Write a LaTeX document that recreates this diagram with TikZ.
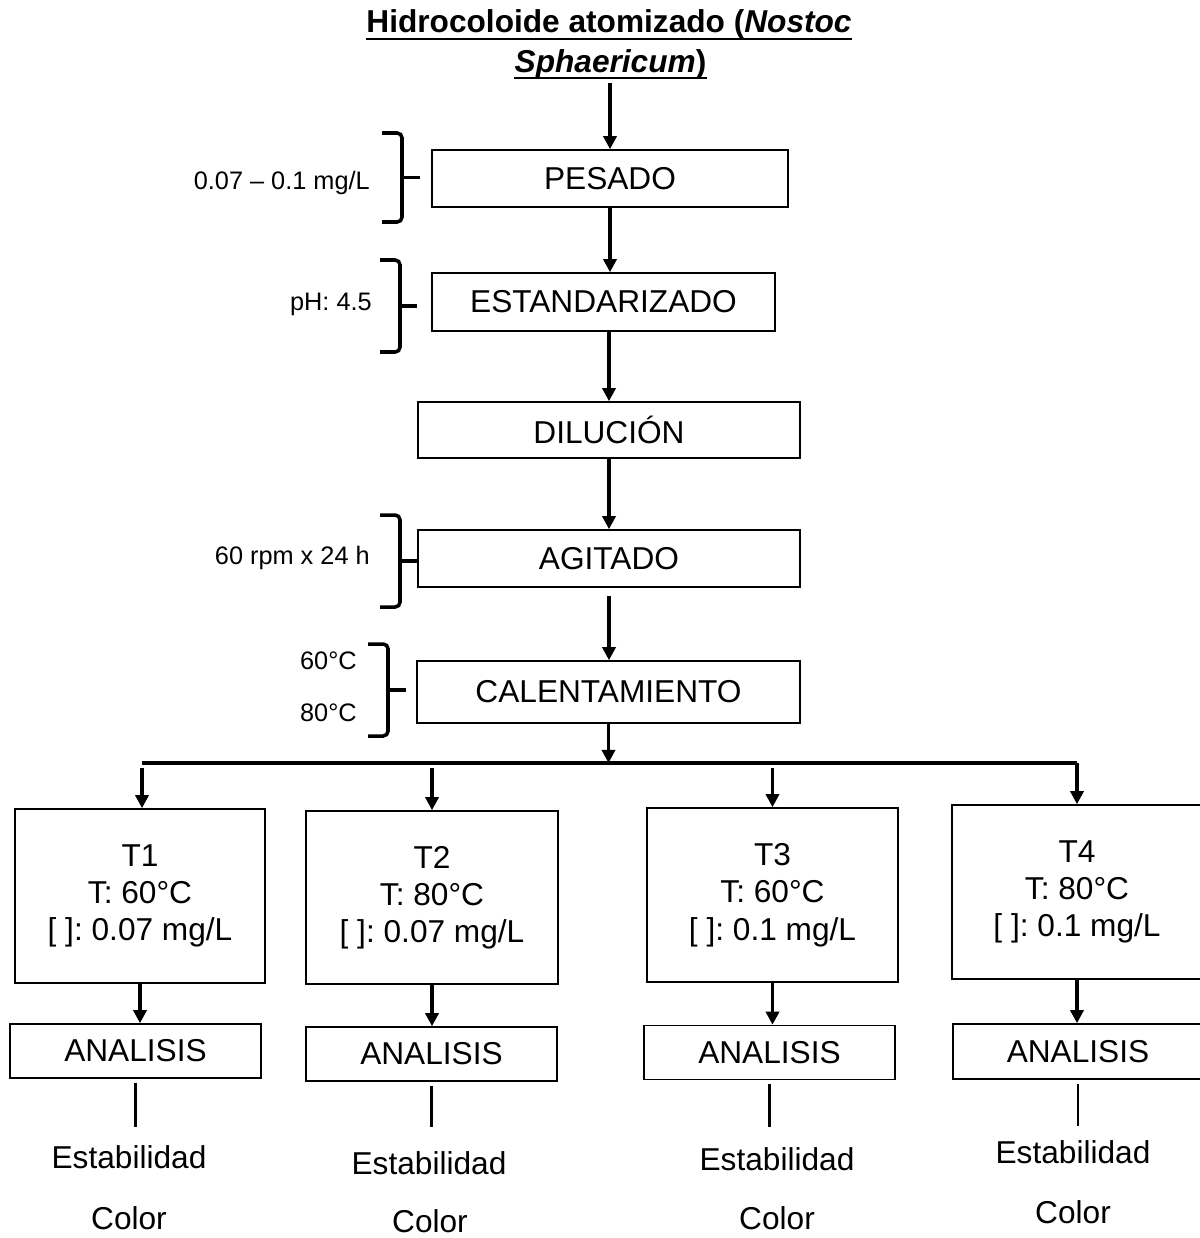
\documentclass[tikz,border=0pt]{standalone}
\usepackage{fontspec}
\setmainfont{Liberation Sans}
\usetikzlibrary{arrows.meta,positioning}
\frenchspacing

\tikzset{
	caja/.style={draw, line width=1.1pt, inner sep=0pt, align=center, font=\fontsize{22.5}{26.5}\selectfont},
	flecha/.style={line width=2.4pt, -{Triangle[length=0.33cm,width=0.33cm]}},
	linea/.style={line width=2pt},
	llave/.style={line width=2.5pt, rounded corners=0.12cm},
	etiqueta/.style={inner sep=0pt, anchor=base east, font=\fontsize{18}{21}\selectfont},
	salida/.style={inner sep=0pt, anchor=base, font=\fontsize{22.5}{26.5}\selectfont},
	titulo/.style={inner sep=0pt, anchor=base, font=\fontsize{22.5}{26.5}\selectfont\bfseries},
}

% llave: x de la vertical, y arriba, y abajo, x de la punta
\newcommand{\llave}[4]{%
	\draw[llave] (#1-20,#2) -- (#1,#2) -- (#1,#3) -- (#1-20,#3);
	\draw[llave] (#1,{(#2+#3)/2}) -- (#4,{(#2+#3)/2});
}

\begin{document}
\begin{tikzpicture}[x=0.025cm, y=-0.025cm]
	\useasboundingbox (0,0) rectangle (1200,1238);

	% titulo
	\node[titulo] (tit1) at (609,32) {Hidrocoloide atomizado (\textit{Nostoc}};
	\node[titulo] (tit2) at (610.5,72) {\textit{Sphaericum})};
	\draw[line width=1.7pt] ([yshift=-0.17cm]tit1.base west) -- ([yshift=-0.17cm]tit1.base east);
	\draw[line width=1.7pt] ([yshift=-0.15cm]tit2.base west) -- ([yshift=-0.15cm]tit2.base east);

	%---------------------
	% proceso
	%---------------------
	\node[caja, minimum width=8.9cm, minimum height=1.425cm] (pesado) at (610,178.5) {PESADO};
	\node[caja, minimum width=8.575cm, minimum height=1.45cm] (estandar) at (603.5,302) {ESTANDARIZADO};
	\node[caja, minimum width=9.55cm, minimum height=1.4cm] (dilucion) at (609,430) {DILUCIÓN};
	\node[caja, minimum width=9.55cm, minimum height=1.425cm] (agitado) at (609,558.5) {AGITADO};
	\node[caja, minimum width=9.575cm, minimum height=1.55cm] (calent) at (608.5,692) {CALENTAMIENTO};

	\draw[flecha, shorten <=0.1cm] (tit2.south -| pesado.north) -- (pesado.north);
	\draw[flecha] (pesado.south) -- (pesado.south |- estandar.north);
	\draw[flecha] (dilucion.north |- estandar.south) -- (dilucion.north);
	\draw[flecha] (dilucion.south) -- (agitado.north);
	\draw[flecha, shorten <=0.2cm] (agitado.south) -- (agitado.south |- calent.north);

	% condiciones
	\node[etiqueta] (cond1) at (370,189) {0.07 – 0.1 mg/L};
	\node[etiqueta] (cond2) at (372,310) {pH: 4.5};
	\node[etiqueta] (cond3) at (370,564) {60 rpm x 24 h};
	\node[etiqueta] (cond4a) at (357,669) {60°C};
	\node[etiqueta] (cond4b) at (357,721) {80°C};

	\llave{402}{133}{222}{420}
	\llave{400}{260}{352}{417}
	\llave{400}{515}{607}{418}
	\llave{388}{644}{736}{406}

	%---------------------
	% tratamientos
	%---------------------
	\coordinate (barraI) at (142,763);
	\coordinate (barraD) at (1077,763);
	\draw[flecha] (calent.south) -- (calent.south |- barraI);
	\draw[line width=2.4pt] (barraI) -- (barraD);

	\node[caja, minimum width=6.25cm, minimum height=4.35cm] (t1) at (140,896) {T1\\T: 60°C\\{[ ]}: 0.07 mg/L};
	\node[caja, minimum width=6.3cm, minimum height=4.325cm] (t2) at (432,897.5) {T2\\T: 80°C\\{[ ]}: 0.07 mg/L};
	\node[caja, minimum width=6.275cm, minimum height=4.35cm] (t3) at (772.5,895) {T3\\T: 60°C\\{[ ]}: 0.1 mg/L};
	\node[caja, minimum width=6.25cm, minimum height=4.35cm] (t4) at (1077,892) {T4\\T: 80°C\\{[ ]}: 0.1 mg/L};

	\draw[flecha, shorten <=0.13cm] (barraI) -- (barraI |- t1.north);
	\draw[flecha, shorten <=0.13cm] (t2.north |- barraI) -- (t2.north);
	\draw[flecha, shorten <=0.13cm] (t3.north |- barraI) -- (t3.north);
	\draw[flecha] (barraD) -- (barraD |- t4.north);

	% analisis
	\node[caja, minimum width=6.275cm, minimum height=1.35cm] (a1) at (135.5,1051) {ANALISIS};
	\node[caja, minimum width=6.275cm, minimum height=1.35cm] (a2) at (431.5,1054) {ANALISIS};
	\node[caja, minimum width=6.275cm, minimum height=1.35cm] (a3) at (769.5,1052.5) {ANALISIS};
	\node[caja, minimum width=6.25cm, minimum height=1.375cm] (a4) at (1078,1051.5) {ANALISIS};

	\draw[flecha] (t1.south) -- (t1.south |- a1.north);
	\draw[flecha] (t2.south) -- (t2.south |- a2.north);
	\draw[flecha] (t3.south) -- (t3.south |- a3.north);
	\draw[flecha] (t4.south) -- (t4.south |- a4.north);

	% resultados
	\node[salida] (e1) at (129,1168) {Estabilidad};
	\node[salida] (e2) at (429,1174) {Estabilidad};
	\node[salida] (e3) at (777,1170) {Estabilidad};
	\node[salida] (e4) at (1073,1163) {Estabilidad};
	\node[salida] (c1) at (129,1229) {Color};
	\node[salida] (c2) at (430,1232) {Color};
	\node[salida] (c3) at (777,1229) {Color};
	\node[salida] (c4) at (1073,1223) {Color};

	\draw[linea, shorten <=0.1cm, shorten >=0.45cm] (a1.south) -- (a1.south |- e1.north);
	\draw[linea, shorten <=0.1cm, shorten >=0.6cm] (a2.south) -- (a2.south |- e2.north);
	\draw[linea, shorten <=0.1cm, shorten >=0.5cm] (a3.south) -- (a3.south |- e3.north);
	\draw[linea, shorten <=0.1cm, shorten >=0.35cm] (a4.south) -- (a4.south |- e4.north);
\end{tikzpicture}
\end{document}
